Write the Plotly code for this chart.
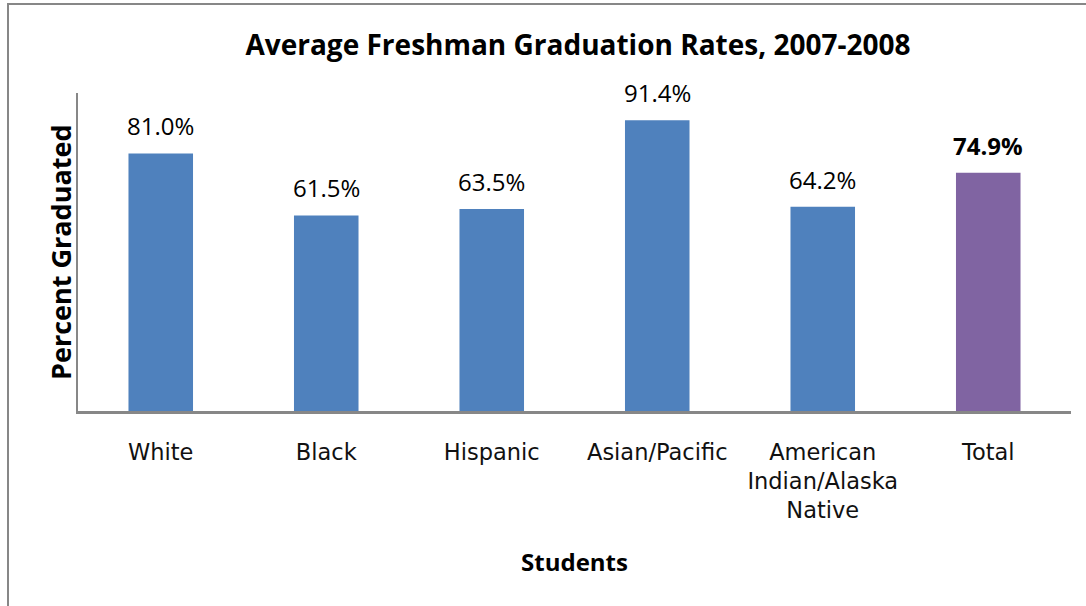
import plotly.graph_objects as go

categories = ["White", "Black", "Hispanic", "Asian/Pacific", "American<br>Indian/Alaska<br>Native", "Total"]
values = [81.0, 61.5, 63.5, 91.4, 64.2, 74.9]
labels = ["81.0%", "61.5%", "63.5%", "91.4%", "64.2%", "<b>74.9%</b>"]
colors = ["#4F81BD", "#4F81BD", "#4F81BD", "#4F81BD", "#4F81BD", "#8064A2"]

W, H = 1086, 606
L, R, T, B = 78, 15, 93, 195
pw = W - L - R
ph = H - T - B

fig = go.Figure(go.Bar(
    x=categories, y=values, marker_color=colors, width=0.39,
    marker_line_width=0, hoverinfo="skip",
))

for c, v, t in zip(categories, values, labels):
    fig.add_annotation(x=c, y=v, text=t, showarrow=False, yanchor="bottom",
                       yshift=9, font=dict(family="Open Sans", size=24, color="#000"))

# outer border
fig.add_shape(type="rect", xref="paper", yref="paper",
              x0=(8 - L) / pw, x1=(W + 20 - L) / pw,
              y0=-(H + 20 - T - ph) / ph, y1=1 + (T - 4) / ph,
              line=dict(color="#878787", width=2), layer="below")

# y-axis title
fig.add_annotation(xref="paper", yref="paper", x=(60 - L) / pw, y=1 - (252 - T) / ph,
                   text="<b>Percent Graduated</b>", textangle=-90, showarrow=False,
                   xanchor="center", yanchor="middle",
                   font=dict(family="Open Sans", size=27, color="#000"))

fig.update_layout(
    width=W, height=H,
    margin=dict(l=L, r=R, t=T, b=B),
    paper_bgcolor="white", plot_bgcolor="white",
    showlegend=False,
    title=dict(text="<b>Average Freshman Graduation Rates, 2007-2008</b>",
               x=578 / W, xanchor="center", y=1 - 45 / H, yanchor="middle",
               font=dict(family="Open Sans", size=28, color="#000")),
    xaxis=dict(showline=True, linecolor="#878787", linewidth=2.5, ticks="",
               tickfont=dict(family="DejaVu Sans", size=22.5, color="#111"),
               ticklabelstandoff=19,
               title=dict(text="<b>Students</b>", standoff=32,
                          font=dict(family="Open Sans", size=24, color="#000"))),
    yaxis=dict(range=[0, 100], showline=True, linecolor="#878787", linewidth=2,
               showgrid=False, zeroline=False, showticklabels=False, ticks=""),
)

fig.write_html("out.html")
